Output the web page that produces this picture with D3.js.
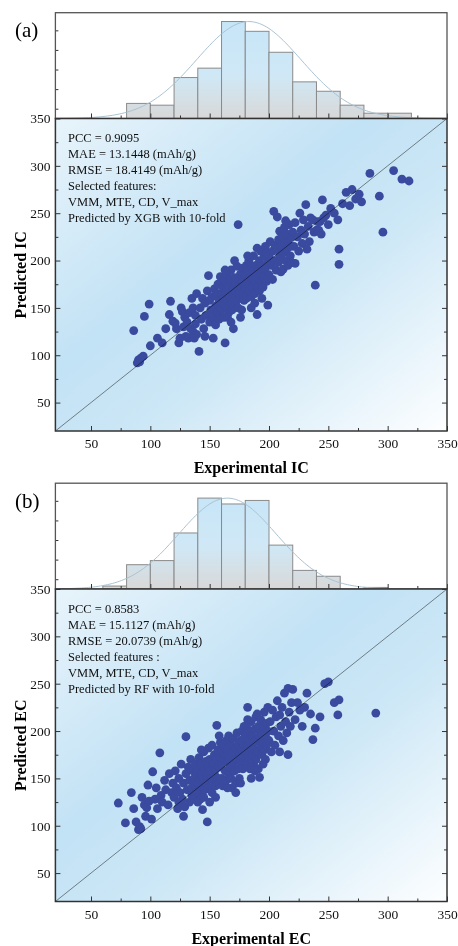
<!DOCTYPE html>
<html>
<head>
<meta charset="utf-8">
<script src="https://cdn.jsdelivr.net/npm/d3@7"></script>
<style>
  body { margin: 0; background: #fff; }
  text { font-family: "Liberation Serif", "Times New Roman", serif; }
</style>
</head>
<body>
<svg id="chart" width="458" height="946"></svg>
<script>

// ---- data ----
var xTickValues = [50, 100, 150, 200, 250, 300, 350];
var xMinorTickValues = [75, 125, 175, 225, 275, 325];
var yTickValues = [50, 100, 150, 200, 250, 300, 350];
var yMinorTickValues = [75, 125, 175, 225, 275, 325];
var histTickValues = [5, 15, 25, 35, 45];

// histogram bins (lower edges, width 20) and bar heights
var histBinStarts = [60, 80, 100, 120, 140, 160, 180, 200, 220, 240, 260, 280, 300];
var histFreqA = [0, 7.7, 6.8, 20.9, 25.7, 49.5, 44.5, 33.8, 18.7, 13.9, 6.8, 2.7, 2.7];
var histFreqB = [1.5, 12.4, 14.5, 28.6, 46.4, 43.4, 45.2, 22.4, 9.5, 6.5, 0, 0.8, 0];

// normal fit curves over the histograms
var fitA = { mean: 183, sd: 44, peak: 49.5 };
var fitB = { mean: 165, sd: 41, peak: 46.4 };

var statsA = ["PCC = 0.9095", "MAE = 13.1448 (mAh/g)", "RMSE = 18.4149 (mAh/g)",
              "Selected features:", "VMM, MTE, CD, V_max", "Predicted by XGB with 10-fold"];
var statsB = ["PCC = 0.8583", "MAE = 15.1127 (mAh/g)", "RMSE = 20.0739 (mAh/g)",
              "Selected features :", "VMM, MTE, CD, V_max", "Predicted by RF with 10-fold"];

// [experimental, predicted]
var pointsA = [
  [86,126],[89,92],[90,95],[91,93],[92,97],[94,99],[95,141],[99,154],
  [100,110],[106,118],[110,113],[113,128],[116,143],[117,157],[119,136],
  [122,128],[124,113],[125,118],[126,150],[127,146],[128,130],[129,140],[130,120],[131,135],[132,118],
  [133,145],[134,128],[135,160],[136,125],[136,150],[137,118],[138,142],[138,133],[139,165],[139,122],[121,134],
  [141,104],[142,150],[143,138],[144,160],[145,128],[146,155],[147,142],[148,168],[149,184],[150,135],
  [150,158],[151,148],[152,162],[153,140],[154,170],[155,152],[155,132],[156,165],[157,145],[157,175],
  [158,158],[158,138],[159,183],[159,150],[146,120],[153,118],
  [160,165],[160,148],[161,172],[161,155],[162,160],[162,140],[163,113],[163,178],[164,168],[164,150],
  [165,158],[165,185],[166,145],[166,170],[167,162],[167,178],[168,155],[168,190],[169,166],[169,148],
  [170,128],[170,172],[170,160],[171,182],[171,152],[172,168],[172,176],[173,194],[173,158],[174,238],
  [174,170],[174,150],[175,180],[175,165],[176,160],[176,186],[177,172],[177,148],[178,178],[178,165],
  [178,192],[179,158],[179,175],[179,185],[165,140],[168,135],[171,200],[176,140],[163,190],
  [180,170],[180,185],[181,195],[181,160],[182,178],[182,190],[183,168],[183,200],[184,175],[184,185],
  [185,162],[185,195],[186,180],[186,172],[187,205],[187,188],[188,165],[188,178],[189,195],[189,185],
  [190,143],[190,172],[190,213],[191,190],[191,180],[192,200],[192,168],[193,185],[193,210],[194,178],
  [194,195],[195,188],[195,172],[196,205],[196,182],[197,192],[197,215],[198,208],[198,178],[199,153],
  [199,198],[185,150],[188,155],[194,160],[182,205],
  [200,185],[200,205],[201,220],[202,195],[203,210],[203,180],[204,252],[205,200],[205,216],[206,190],
  [207,246],[207,212],[208,222],[208,198],[209,231],[209,205],[210,215],[210,188],[211,225],[212,208],
  [212,191],[213,218],[213,235],[214,200],[215,212],[215,228],[216,195],[216,220],[217,238],[218,205],
  [218,215],[219,225],[219,198],[214,242],
  [220,230],[221,215],[222,197],[222,240],[224,225],[225,210],[226,250],[227,232],[228,218],[229,243],
  [230,228],[231,259],[232,212],[233,236],[234,220],[235,245],[237,243],[238,230],[239,174],
  [240,232],[241,241],[242,232],[243,241],[244,228],[245,264],[246,245],[248,248],[250,238],[252,255],
  [255,250],[258,243],[259,212],[259,196],
  [262,260],[265,272],[268,258],[270,275],[273,265],[276,270],[278,262],
  [285,292],[293,268],[296,230],
  [305,295],[312,286],[318,284]
];

var pointsB = [
  [73,124],[79,103],
  [84,135],[86,118],[88,104],[90,96],[91,99],[92,97],[93,130],[95,122],[96,110],[97,119],[98,143],[99,126],
  [101,107],[102,157],[104,128],[105,140],[106,118],[108,177],[109,132],[110,125],[112,148],[113,138],
  [115,122],[116,155],[118,135],[119,145],
  [120,130],[121,158],[122,140],[123,118],[124,150],[125,135],[126,165],[127,128],[128,145],[129,120],
  [130,194],[130,155],[131,138],[132,162],[133,125],[133,148],[134,170],[135,140],[135,132],[136,158],
  [137,128],[137,150],[138,165],[138,142],[139,135],[139,155],[124,125],[128,110],
  [140,145],[140,160],[141,172],[141,135],[142,150],[142,128],[143,165],[143,155],[144,140],[144,117],
  [145,178],[145,150],[146,160],[146,138],[147,168],[147,145],[148,104],[148,155],[149,182],[149,162],
  [150,140],[150,170],[151,150],[151,158],[152,185],[152,135],[153,165],[153,148],[154,175],[154,155],
  [155,160],[155,142],[156,206],[156,170],[157,150],[157,180],[158,162],[158,145],[159,172],[159,188],
  [140,125],[145,130],[150,125],[155,130],[158,195],[143,180],
  [160,165],[160,150],[161,178],[161,142],[162,170],[162,185],[163,158],[163,175],[164,190],[164,148],
  [165,168],[165,180],[166,155],[166,195],[167,172],[167,162],[168,185],[168,150],[169,140],[169,178],
  [170,165],[170,192],[171,175],[171,158],[172,182],[172,145],[173,170],[173,198],[174,185],[174,160],
  [175,175],[175,150],[176,190],[176,168],[177,180],[177,200],[178,172],[178,160],[179,185],[179,205],
  [165,140],[172,135],[176,145],
  [180,178],[180,195],[181,165],[181,205],[182,212],[182,185],[183,172],[183,190],[184,200],[184,160],
  [185,182],[185,210],[186,175],[186,195],[187,188],[187,165],[188,202],[188,180],[189,215],[189,170],
  [190,190],[190,178],[191,205],[191,160],[192,195],[192,151],[193,185],[193,212],[194,175],[194,198],
  [195,205],[195,188],[196,220],[196,180],[197,195],[197,170],[198,208],[198,185],[199,200],[199,225],
  [185,150],[188,158],[190,218],[195,165],[182,225],
  [200,190],[201,210],[202,178],[203,222],[204,200],[205,185],[206,215],[207,232],[208,195],[209,178],
  [209,217],[210,205],[211,225],[212,190],[213,240],[214,210],[215,198],[216,175],[216,245],[217,220],
  [218,205],[219,230],
  [220,244],[222,212],[224,230],[226,222],[228,205],[230,225],[232,240],[235,218],[237,191],[239,203],
  [243,215],[247,250],[250,252],[255,230],[258,217],[259,233],
  [290,219]
];

// ---- layout ----
var plotLeft = 55.4, plotRight = 447;
var panelShift = 470.5;
var pointColor = "#3a4a9f";
var axisColor = "#333";

var svg = d3.select("#chart");
var defs = svg.append("defs");

// diagonal background: pale top-left, blue band, white bottom-right
var bg = defs.append("linearGradient").attr("id", "bgGrad")
  .attr("x1", 0).attr("y1", 0).attr("x2", 1).attr("y2", 1);
bg.append("stop").attr("offset", 0).attr("stop-color", "#e8f4fb");
bg.append("stop").attr("offset", 0.4).attr("stop-color", "#c2e2f5");
bg.append("stop").attr("offset", 0.6).attr("stop-color", "#cce7f6");
bg.append("stop").attr("offset", 1).attr("stop-color", "#fdfeff");

var x = d3.scaleLinear().domain([20, 350]).range([plotLeft, plotRight]);


function drawPanel(idx, off, points, histFreq, fit, stats, label, xTitle, yTitle) {
  var histTop = 12.7 + off;
  var histBottom = 118.5 + off;
  var plotBottom = 431 + off;

  var y = d3.scaleLinear().domain([20, 350]).range([plotBottom, histBottom]);
  var hy = d3.scaleLinear().domain([0, 54]).range([histBottom, histTop]);

  var g = svg.append("g");

  // --- histogram ---
  var hg = defs.append("linearGradient").attr("id", "histGrad" + idx)
    .attr("gradientUnits", "userSpaceOnUse")
    .attr("x1", 0).attr("x2", 0).attr("y1", histTop).attr("y2", histBottom);
  hg.append("stop").attr("offset", 0).attr("stop-color", "#c4e5f8");
  hg.append("stop").attr("offset", 0.6).attr("stop-color", "#d0e8f6");
  hg.append("stop").attr("offset", 1).attr("stop-color", "#d8d8d8");

  var bars = histBinStarts.map(function(s, i) { return { x0: s, x1: s + 20, v: histFreq[i] }; })
    .filter(function(d) { return d.v > 0; });

  g.selectAll("rect.bar").data(bars).enter().append("rect")
    .attr("class", "bar")
    .attr("x", function(d) { return x(d.x0); })
    .attr("width", function(d) { return x(d.x1) - x(d.x0); })
    .attr("y", function(d) { return hy(d.v); })
    .attr("height", function(d) { return histBottom - hy(d.v); })
    .attr("fill", "url(#histGrad" + idx + ")")
    .attr("stroke", "#8a8a8a")
    .attr("stroke-width", 1);

  var curveX = d3.range(20, 351, 2);
  var curve = d3.line()
    .x(function(d) { return x(d); })
    .y(function(d) { return hy(fit.peak * Math.exp(-Math.pow(d - fit.mean, 2) / (2 * fit.sd * fit.sd))); })
    .curve(d3.curveBasis);
  g.append("path").datum(curveX)
    .attr("d", curve)
    .attr("fill", "none")
    .attr("stroke", "#aac3d2")
    .attr("stroke-width", 1);

  // histogram ticks
  var hLeft = g.append("g").attr("transform", "translate(" + plotLeft + ",0)")
    .call(d3.axisLeft(hy).tickValues(histTickValues).tickSize(-3).tickFormat(""));
  var hBot = g.append("g").attr("transform", "translate(0," + histBottom + ")")
    .call(d3.axisBottom(x).tickValues(xTickValues).tickSize(-5).tickFormat(""));
  var hBotMinor = g.append("g").attr("transform", "translate(0," + histBottom + ")")
    .call(d3.axisBottom(x).tickValues(xMinorTickValues).tickSize(-3).tickFormat(""));
  [hLeft, hBot, hBotMinor].forEach(function(a) {
    a.select(".domain").remove();
    a.selectAll("line").attr("stroke", axisColor);
  });

  g.append("rect")
    .attr("x", plotLeft).attr("y", histTop)
    .attr("width", plotRight - plotLeft).attr("height", histBottom - histTop)
    .attr("fill", "none").attr("stroke", "#555").attr("stroke-width", 1.3);

  // --- scatter ---
  g.append("rect")
    .attr("x", plotLeft).attr("y", histBottom)
    .attr("width", plotRight - plotLeft).attr("height", plotBottom - histBottom)
    .attr("fill", "url(#bgGrad)");

  g.selectAll("circle.pt").data(points).enter().append("circle")
    .attr("class", "pt")
    .attr("cx", function(d) { return x(d[0]); })
    .attr("cy", function(d) { return y(d[1]); })
    .attr("r", 4.4)
    .attr("fill", pointColor);

  g.append("line")
    .attr("x1", x(20)).attr("y1", y(20))
    .attr("x2", x(350)).attr("y2", y(350))
    .attr("stroke", "#8c8c8c")
    .attr("stroke-width", 1)
    .style("mix-blend-mode", "multiply");

  // axes
  var fontSize = 13.5;
  var bottomAxis = g.append("g").attr("transform", "translate(0," + plotBottom + ")")
    .call(d3.axisBottom(x).tickValues(xTickValues).tickSize(-5).tickPadding(7.5));
  var bottomMinor = g.append("g").attr("transform", "translate(0," + plotBottom + ")")
    .call(d3.axisBottom(x).tickValues(xMinorTickValues).tickSize(-3).tickFormat(""));
  var leftAxis = g.append("g").attr("transform", "translate(" + plotLeft + ",0)")
    .call(d3.axisLeft(y).tickValues(yTickValues).tickSize(-5).tickPadding(5));
  var leftMinor = g.append("g").attr("transform", "translate(" + plotLeft + ",0)")
    .call(d3.axisLeft(y).tickValues(yMinorTickValues).tickSize(-3).tickFormat(""));
  var rightAxis = g.append("g").attr("transform", "translate(" + plotRight + ",0)")
    .call(d3.axisRight(y).tickValues(yTickValues).tickSize(-5).tickFormat(""));
  var rightMinor = g.append("g").attr("transform", "translate(" + plotRight + ",0)")
    .call(d3.axisRight(y).tickValues(yMinorTickValues).tickSize(-3).tickFormat(""));

  [bottomAxis, bottomMinor, leftAxis, leftMinor, rightAxis, rightMinor].forEach(function(a) {
    a.select(".domain").remove();
    a.selectAll("line").attr("stroke", axisColor);
    a.attr("font-family", "'Liberation Serif', serif").attr("font-size", fontSize);
    a.selectAll("text").attr("fill", "#111");
  });

  g.append("rect")
    .attr("x", plotLeft).attr("y", histBottom)
    .attr("width", plotRight - plotLeft).attr("height", plotBottom - histBottom)
    .attr("fill", "none").attr("stroke", "#333").attr("stroke-width", 1.5);

  // stats text block
  g.selectAll("text.stat").data(stats).enter().append("text")
    .attr("class", "stat")
    .attr("x", 68)
    .attr("y", function(d, i) { return 142 + off + i * 16; })
    .attr("font-size", 12.5)
    .attr("fill", "#111")
    .text(function(d) { return d; });

  // titles
  g.append("text")
    .attr("x", (plotLeft + plotRight) / 2)
    .attr("y", 473 + off)
    .attr("text-anchor", "middle")
    .attr("font-size", 16)
    .attr("font-weight", "bold")
    .text(xTitle);

  g.append("text")
    .attr("transform", "translate(26," + ((histBottom + plotBottom) / 2) + ") rotate(-90)")
    .attr("text-anchor", "middle")
    .attr("font-size", 16)
    .attr("font-weight", "bold")
    .text(yTitle);

  g.append("text")
    .attr("x", 15)
    .attr("y", 37 + off)
    .attr("font-size", 21)
    .text(label);
}

drawPanel(0, 0, pointsA, histFreqA, fitA, statsA, "(a)", "Experimental IC", "Predicted IC");
drawPanel(1, panelShift, pointsB, histFreqB, fitB, statsB, "(b)", "Experimental EC", "Predicted EC");

</script>
</body>
</html>
